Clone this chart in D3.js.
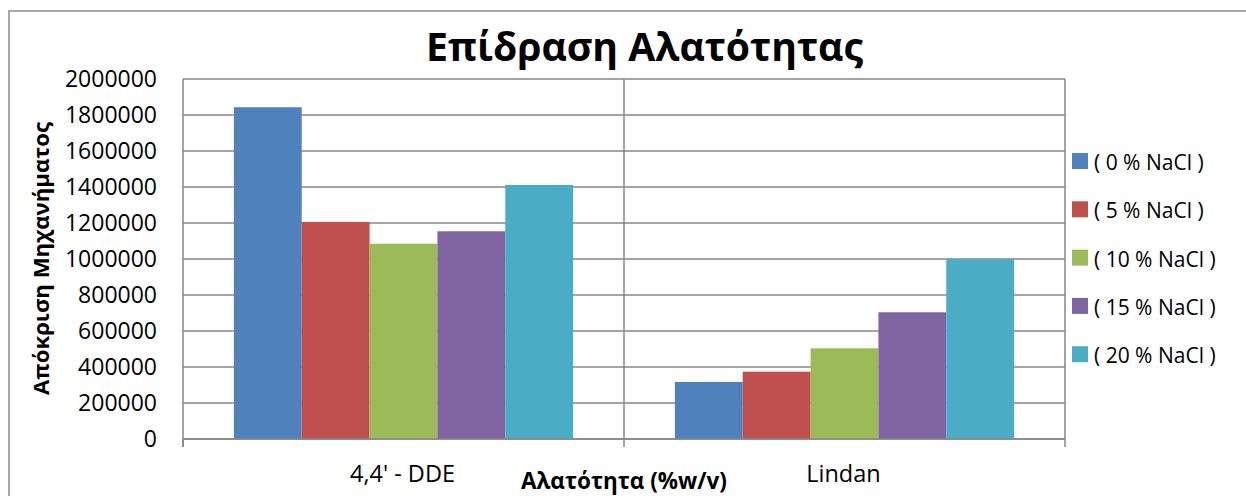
<!DOCTYPE html>
<html><head><meta charset="utf-8">
<script src="https://cdn.jsdelivr.net/npm/d3@7"></script>
<style>html,body{margin:0;padding:0;background:#fff;overflow:hidden}svg{display:block}</style>
</head><body>
<svg id="c" width="1246" height="496"></svg>
<script>
const categories = ["4,4' - DDE", "Lindan"];
const seriesNames = ["( 0 % NaCl )", "( 5 % NaCl )", "( 10 % NaCl )", "( 15 % NaCl )", "( 20 % NaCl )"];
const values0 = [1843000, 317000];
const values5 = [1206000, 374000];
const values10 = [1085000, 504000];
const values15 = [1154000, 704000];
const values20 = [1411000, 1000000];
const yTicks = [0, 200000, 400000, 600000, 800000, 1000000, 1200000, 1400000, 1600000, 1800000, 2000000];
const colors = ["#4F81BD", "#C0504D", "#9BBB59", "#8064A2", "#4BACC6"];
const titleText = "Επίδραση Αλατότητας";
const yTitle = "Απόκριση Μηχανήματος";
const xTitle = "Αλατότητα (%w/v)";

const seriesValues = [values0, values5, values10, values15, values20];
const svg = d3.select("#c");
const FONT = "'Open Sans', sans-serif";
const GRID = "#878787";

function fit(sel, w) {
  const n = sel.node();
  const cur = n.getComputedTextLength();
  const fs = parseFloat(sel.attr("font-size"));
  const nf = fs * w / cur;
  sel.attr("font-size", nf.toFixed(2));
  return nf;
}

// outer frame
svg.append("rect").attr("x", 9).attr("y", 11).attr("width", 1300).attr("height", 600)
  .attr("fill", "none").attr("stroke", "#8a8a8a").attr("stroke-width", 1.5);

const L = 183, R = 1065, T = 79, B = 439;
const x0 = d3.scaleBand().domain(categories).range([L, R]).paddingInner(0).paddingOuter(0);
const x1 = d3.scaleBand().domain(d3.range(seriesNames.length)).range([0, x0.bandwidth()]).paddingInner(0).paddingOuter(0.75);
const y = d3.scaleLinear().domain([0, 2000000]).range([B, T]);

// horizontal gridlines
svg.append("g").selectAll("line").data(yTicks).join("line")
  .attr("x1", L).attr("x2", R).attr("y1", d => y(d)).attr("y2", d => y(d))
  .attr("stroke", GRID).attr("stroke-width", 1.5);
// vertical gridlines at category boundaries
const bounds = categories.map(c => x0(c)).concat([R]);
svg.append("g").selectAll("line").data(bounds.slice(1)).join("line")
  .attr("x1", d => d).attr("x2", d => d).attr("y1", T).attr("y2", B)
  .attr("stroke", GRID).attr("stroke-width", 1.5);

// bars
const g = svg.append("g");
categories.forEach((c, ci) => {
  g.append("g").selectAll("rect").data(seriesValues.map((s, si) => ({si, v: s[ci]}))).join("rect")
    .attr("x", d => x0(c) + x1(d.si)).attr("width", x1.bandwidth())
    .attr("y", d => y(d.v)).attr("height", d => y(0) - y(d.v))
    .attr("fill", d => colors[d.si]);
});

// axes lines and ticks
svg.append("line").attr("x1", L).attr("x2", L).attr("y1", T).attr("y2", B + 8).attr("stroke", GRID).attr("stroke-width", 1.5);
svg.append("line").attr("x1", L).attr("x2", R).attr("y1", B).attr("y2", B).attr("stroke", GRID).attr("stroke-width", 1.5);
svg.append("g").selectAll("line").data(bounds).join("line")
  .attr("x1", d => d).attr("x2", d => d).attr("y1", B).attr("y2", B + 8)
  .attr("stroke", GRID).attr("stroke-width", 1.5);

// y tick labels
svg.append("g").selectAll("text").data(yTicks).join("text")
  .attr("x", 157).attr("y", d => y(d) + 8.3).attr("text-anchor", "end")
  .attr("font-family", FONT).attr("font-size", 23).attr("fill", "#000")
  .text(d => String(d));

// x labels
const xl = svg.append("g").selectAll("text").data(categories).join("text")
  .attr("x", d => x0(d) + x0.bandwidth() / 2 - 1).attr("y", 482).attr("text-anchor", "middle")
  .attr("font-family", FONT).attr("font-size", 18).attr("fill", "#000")
  .text(d => d);
const xfs = fit(d3.select(xl.nodes()[0]), 105);
xl.attr("font-size", xfs.toFixed(2));

// title
const t = svg.append("text").attr("x", 644.5).attr("y", 61).attr("text-anchor", "middle")
  .attr("font-family", FONT).attr("font-weight", "bold").attr("font-size", 34).attr("fill", "#000").text(titleText);
fit(t, 437);

// y title
const yt = svg.append("text").attr("transform", "translate(49,258.5) rotate(-90)").attr("text-anchor", "middle")
  .attr("font-family", FONT).attr("font-weight", "bold").attr("font-size", 20).attr("fill", "#000").text(yTitle);
fit(yt, 273);

// x title
const xt = svg.append("text").attr("x", 624).attr("y", 489).attr("text-anchor", "middle")
  .attr("font-family", FONT).attr("font-weight", "bold").attr("font-size", 19).attr("fill", "#000").text(xTitle);
fit(xt, 206);

// legend
const lg = svg.append("g").selectAll("g").data(seriesNames).join("g")
  .attr("transform", (d, i) => `translate(1072,${153 + i * 48.3})`);
lg.append("rect").attr("width", 16).attr("height", 16).attr("fill", (d, i) => colors[i]);
lg.append("text").attr("x", 22).attr("y", 17).attr("font-family", FONT).attr("font-size", 21).attr("fill", "#000").text(d => d);
</script>
</body></html>
